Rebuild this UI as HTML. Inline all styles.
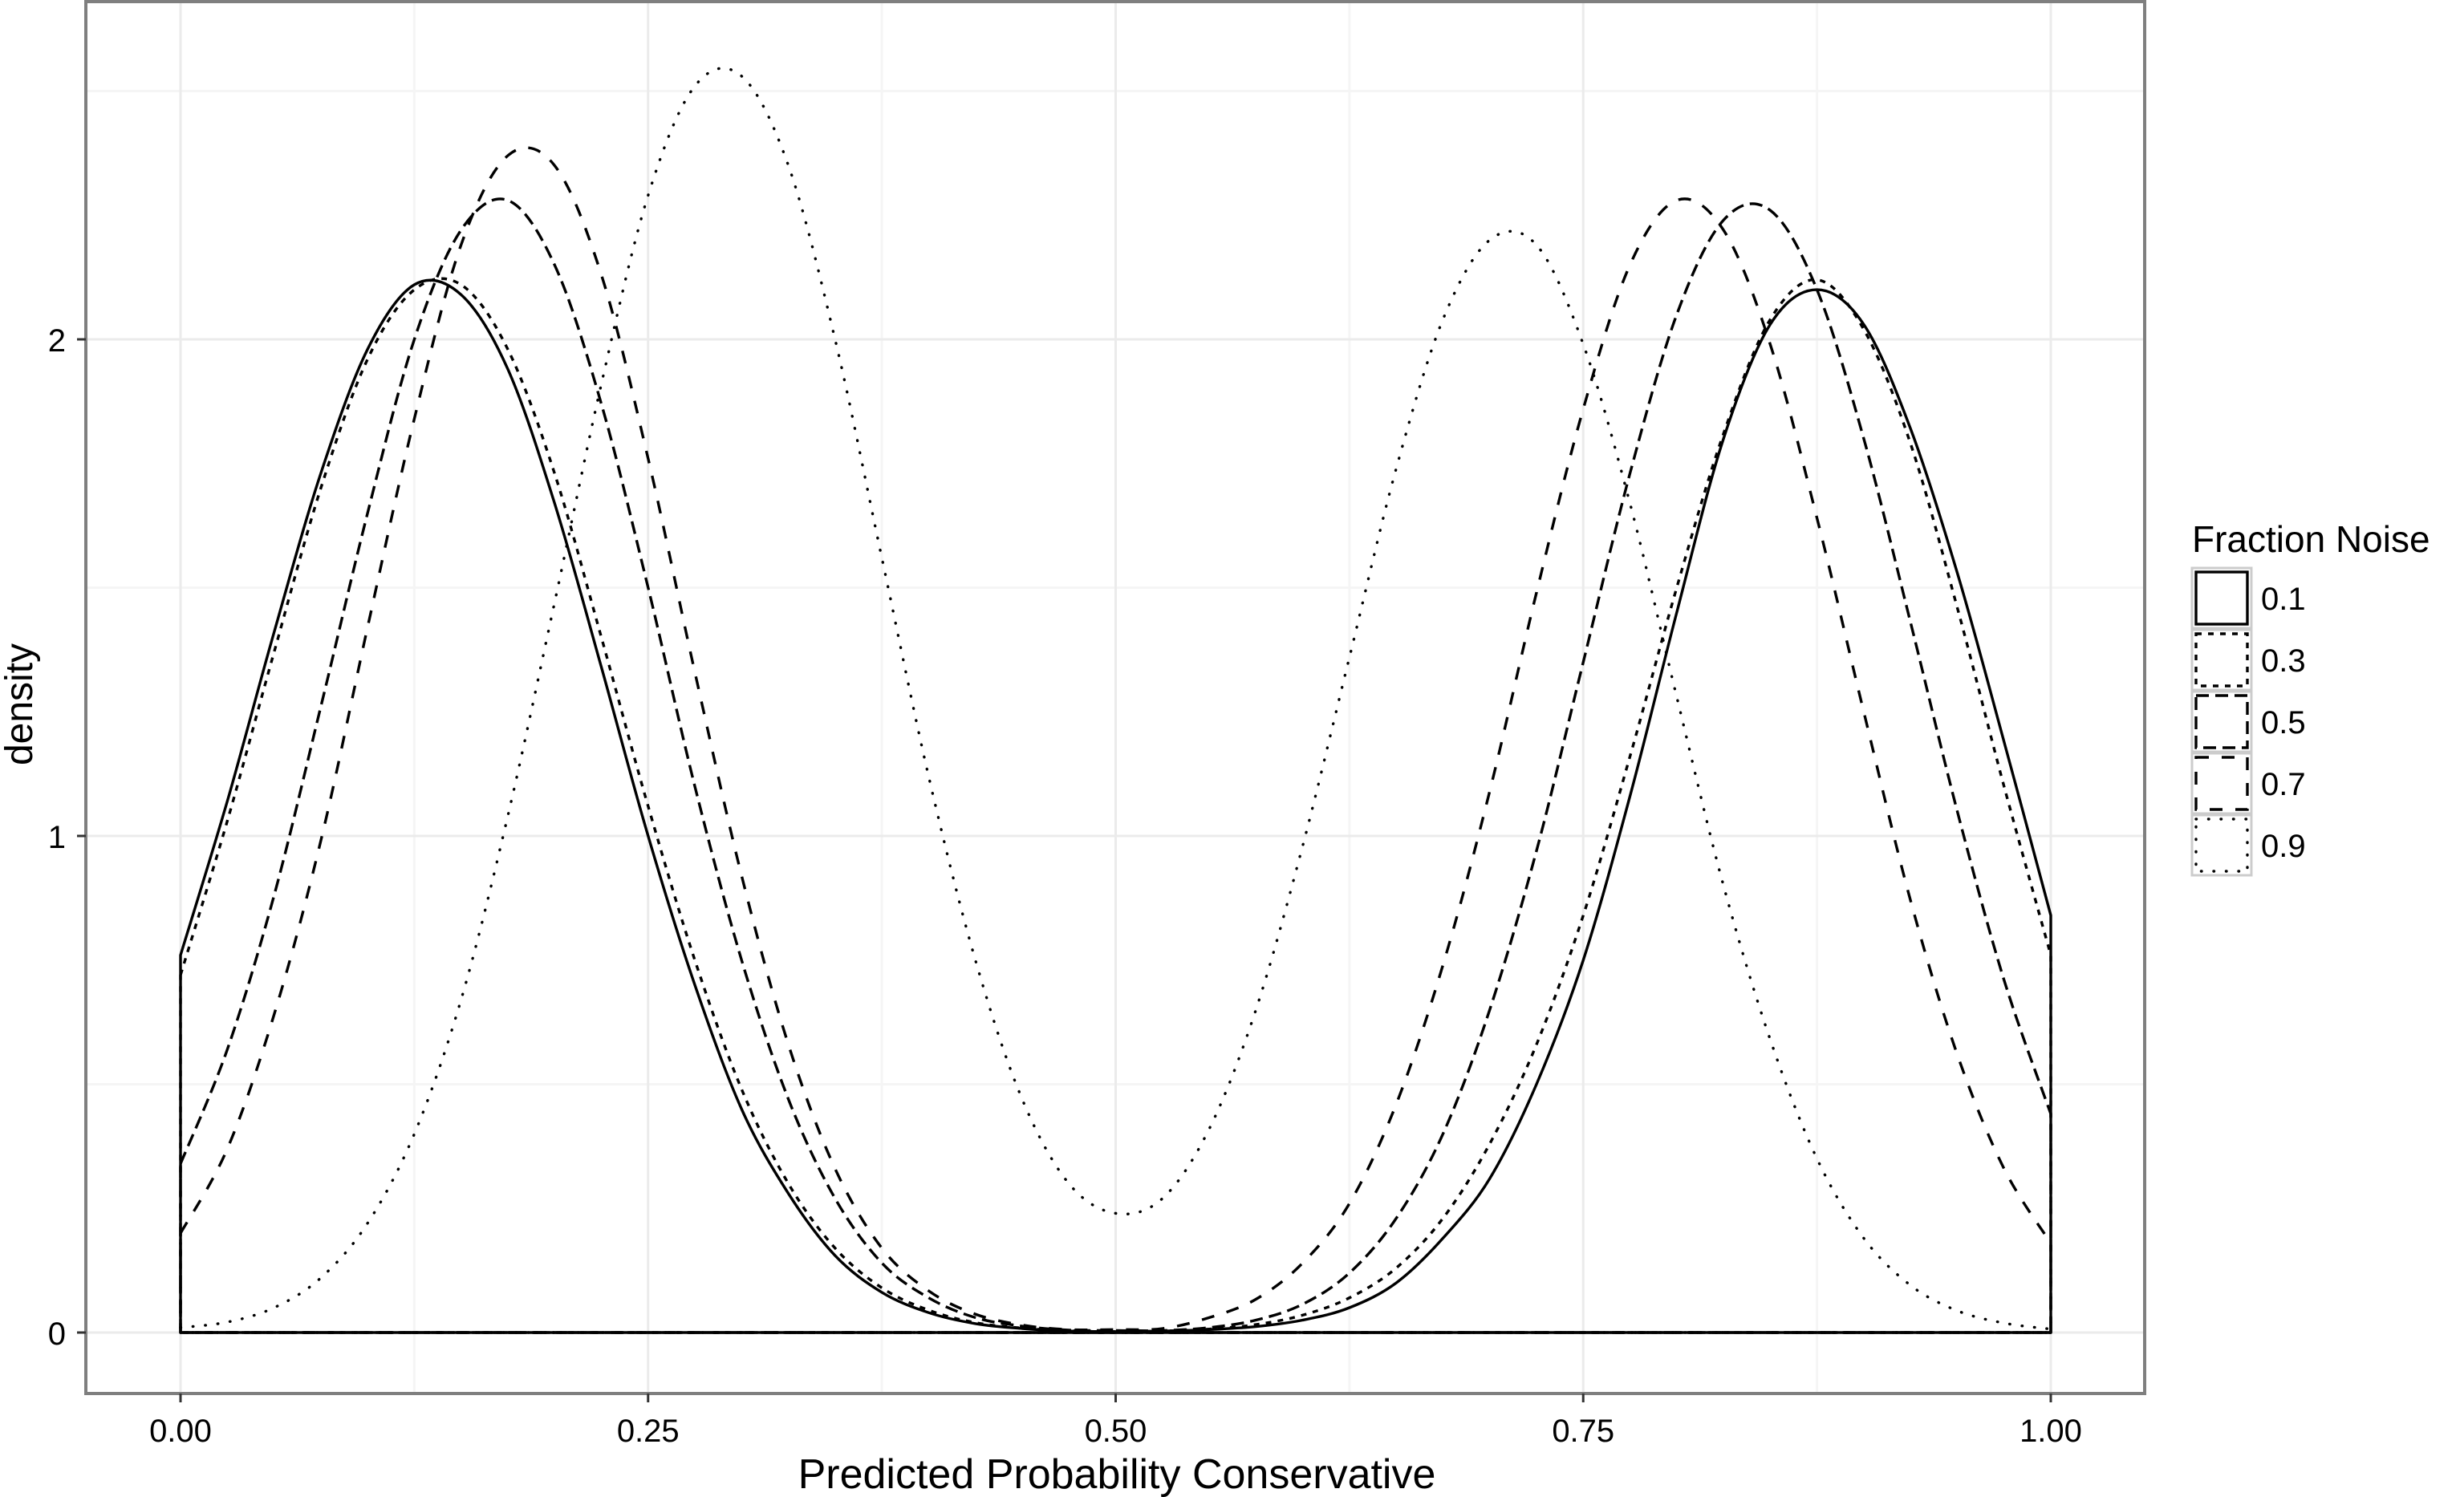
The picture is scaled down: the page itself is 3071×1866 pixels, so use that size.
<!DOCTYPE html>
<html><head><meta charset="utf-8"><style>
html,body{margin:0;padding:0;background:#fff;}
svg{display:block;font-family:"Liberation Sans",Arial,sans-serif;}
</style></head><body>
<svg id="chart" width="3071" height="1866" viewBox="0 0 3071 1866">
<g id="grid"></g>
<g id="series"></g>
<rect x="107" y="2" width="2566" height="1735" fill="none" stroke="#7f7f7f" stroke-width="4"/>
<g id="axes"></g>
<text x="1392" y="1855" font-size="52" text-anchor="middle" fill="#000">Predicted Probability Conservative</text>
<text transform="translate(40,878) rotate(-90)" font-size="48" text-anchor="middle" fill="#000">density</text>
<g id="legend">
<text x="2732" y="688" font-size="46" fill="#000">Fraction Noise</text>
</g>
</svg>
<script>
const xs = [0,0.025,0.05,0.075,0.1,0.125,0.15,0.175,0.2,0.225,0.25,0.275,0.3,0.325,0.35,0.375,0.4,0.425,0.45,0.475,0.5,0.525,0.55,0.575,0.6,0.625,0.65,0.675,0.7,0.725,0.75,0.775,0.8,0.825,0.85,0.875,0.9,0.925,0.95,0.975,1];
const seriesNames = ["0.1","0.3","0.5","0.7","0.9"];
const s01 = [0.76,1.07,1.41,1.73,1.98,2.11,2.09,1.94,1.67,1.34,1.00,0.70,0.45,0.28,0.155,0.081,0.04,0.018,0.008,0.003,0.002,0.003,0.006,0.012,0.025,0.05,0.10,0.19,0.31,0.50,0.75,1.08,1.45,1.80,2.03,2.10,2.03,1.82,1.53,1.19,0.84];
const s03 = [0.72,1.03,1.37,1.70,1.96,2.10,2.11,1.98,1.73,1.40,1.06,0.75,0.49,0.30,0.17,0.09,0.045,0.02,0.009,0.004,0.002,0.003,0.007,0.016,0.035,0.07,0.13,0.23,0.38,0.58,0.84,1.16,1.50,1.81,2.04,2.12,2.02,1.79,1.46,1.10,0.76];
const s05 = [0.34,0.57,0.88,1.26,1.65,2.00,2.22,2.28,2.15,1.87,1.50,1.10,0.75,0.47,0.27,0.14,0.07,0.03,0.013,0.005,0.004,0.004,0.01,0.025,0.057,0.12,0.23,0.40,0.65,0.97,1.35,1.73,2.05,2.24,2.26,2.10,1.80,1.43,1.05,0.71,0.44];
const s07 = [0.20,0.37,0.64,0.99,1.42,1.84,2.19,2.37,2.35,2.13,1.76,1.33,0.92,0.58,0.33,0.17,0.084,0.037,0.015,0.006,0.006,0.008,0.03,0.067,0.14,0.26,0.46,0.74,1.09,1.49,1.86,2.15,2.28,2.22,1.99,1.64,1.25,0.87,0.56,0.33,0.18];
const s09 = [0.01,0.021,0.05,0.11,0.22,0.40,0.67,1.04,1.47,1.91,2.29,2.51,2.53,2.35,2.00,1.56,1.12,0.75,0.47,0.30,0.24,0.27,0.41,0.65,0.98,1.36,1.74,2.04,2.20,2.19,1.99,1.67,1.28,0.90,0.59,0.35,0.19,0.095,0.044,0.019,0.007];
const xTicks = [0,0.25,0.5,0.75,1];
const xTickLabels = ["0.00","0.25","0.50","0.75","1.00"];
const yTicks = [0,1,2];
const yTickLabels = ["0","1","2"];

const NS="http://www.w3.org/2000/svg";
function xScale(v){return 225+v*(2556-225);}
function yScale(v){return 1661-v*619;}
function mk(tag,attrs,parent){const e=document.createElementNS(NS,tag);for(const k in attrs)e.setAttribute(k,attrs[k]);parent.appendChild(e);return e;}

const grid=document.getElementById('grid');
[0.125,0.375,0.625,0.875].forEach(v=>{const l=mk('line',{x1:xScale(v),x2:xScale(v),y1:2,y2:1737,stroke:'#f5f5f5','stroke-width':3},grid);

});
[0.5,1.5,2.5].forEach(v=>{const l=mk('line',{x1:107,x2:2673,y1:yScale(v),y2:yScale(v),stroke:'#f5f5f5','stroke-width':3},grid);

});
xTicks.forEach(v=>{const l=mk('line',{x1:xScale(v),x2:xScale(v),y1:2,y2:1737,stroke:'#ebebeb','stroke-width':3},grid);

});
yTicks.forEach(v=>{const l=mk('line',{x1:107,x2:2673,y1:yScale(v),y2:yScale(v),stroke:'#ebebeb','stroke-width':3},grid);

});

const axes=document.getElementById('axes');
xTicks.forEach((v,i)=>{
 const t=mk('line',{x1:xScale(v),x2:xScale(v),y1:1737,y2:1748,stroke:'#333','stroke-width':3},axes);
 
 
 const tx=mk('text',{x:xScale(v),y:1797,'font-size':40,'text-anchor':'middle',fill:'#000'},axes);
 tx.textContent=xTickLabels[i];
 
 
});
yTicks.forEach((v,i)=>{
 const t=mk('line',{x1:96,x2:107,y1:yScale(v),y2:yScale(v),stroke:'#333','stroke-width':3},axes);
 
 
 const tx=mk('text',{x:82,y:yScale(v)+15,'font-size':40,'text-anchor':'end',fill:'#000'},axes);
 tx.textContent=yTickLabels[i];
 
 
});

const styles=[
 {dash:'',cap:'butt'},
 {dash:'7 8',cap:'butt'},
 {dash:'16 8',cap:'butt'},
 {dash:'16 16',cap:'butt'},
 {dash:'0.5 15',cap:'round'}
];
const allSeries=[s01,s03,s05,s07,s09];

function smoothPath(vals){
 const pts=xs.map((x,i)=>[xScale(x),yScale(vals[i])]);
 let d='M'+pts[0][0]+','+pts[0][1];
 for(let i=0;i<pts.length-1;i++){
  const p0=pts[Math.max(0,i-1)],p1=pts[i],p2=pts[i+1],p3=pts[Math.min(pts.length-1,i+2)];
  const c1x=p1[0]+(p2[0]-p0[0])/6,c1y=p1[1]+(p2[1]-p0[1])/6;
  const c2x=p2[0]-(p3[0]-p1[0])/6,c2y=p2[1]-(p3[1]-p1[1])/6;
  d+=' C'+c1x.toFixed(1)+','+c1y.toFixed(1)+' '+c2x.toFixed(1)+','+c2y.toFixed(1)+' '+p2[0].toFixed(1)+','+p2[1].toFixed(1);
 }
 d+=' L'+xScale(1)+','+yScale(0)+' L'+xScale(0)+','+yScale(0)+' Z';
 return d;
}
const sg=document.getElementById('series');
for(let k=allSeries.length-1;k>=0;k--){
 const st=styles[k];
 const p=mk('path',{d:smoothPath(allSeries[k]),fill:'none',stroke:'#000','stroke-width':3.4,'stroke-linecap':st.cap,'stroke-linejoin':'round'},sg);
 if(st.dash)p.setAttribute('stroke-dasharray',st.dash);
 
 
}

const lg=document.getElementById('legend');
seriesNames.forEach((n,i)=>{
 const y0=708+i*77;
 const g=mk('g',{},lg);
 
 
 mk('rect',{x:2732,y:y0,width:74,height:75,fill:'#fff',stroke:'#cccccc','stroke-width':3},g);
 const r=mk('rect',{x:2737,y:y0+5,width:64,height:65,fill:'none',stroke:'#000','stroke-width':3.4,'stroke-linecap':styles[i].cap},g);
 if(styles[i].dash)r.setAttribute('stroke-dasharray',styles[i].dash);
 const t=mk('text',{x:2818,y:y0+52,'font-size':40,fill:'#000'},g);
 t.textContent=n;
});
</script>
</body></html>
